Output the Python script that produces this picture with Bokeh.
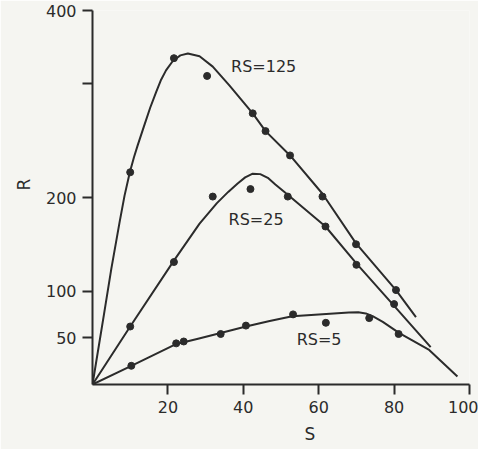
import math
from bokeh.plotting import figure
from bokeh.models import Range1d, FixedTicker, ColumnDataSource, Title
from bokeh.core.properties import value
from bokeh.embed import file_html
from bokeh.resources import INLINE

# ---- data ----
# measured points (S, R) for each RS level
rs125_s = [10, 21.6, 30.4, 42.5, 45.9, 52.4, 61, 69.9, 80.5]
rs125_r = [227, 349, 330, 290, 271, 245, 201, 150, 101]

rs25_s = [10, 21.6, 31.9, 41.9, 51.8, 61.8, 70.0, 80.0]
rs25_r = [62, 131, 201, 209, 201, 169, 128, 86]

rs5_s = [10.3, 22.2, 24.2, 34.0, 40.7, 53.2, 61.9, 73.4, 81.2]
rs5_r = [20, 44, 46, 54, 63, 75, 66, 71, 54]

# fitted curves
fit125_s = [0, 3, 5, 7.2, 8.5, 9.9, 11, 12, 13.8, 15.3, 16.9, 18.2, 19.5, 21.3, 23.3, 25.3,
            28.4, 31.9, 36.3, 42.5, 45.9, 52.4, 61, 69.9, 80.5, 85.8]
fit125_r = [0, 74, 124, 174, 202, 227, 243, 256, 278, 296, 313, 326, 336, 346, 352, 354,
            351, 340, 320, 290, 271, 245, 204, 151, 101, 72]

fit25_s = [0, 10, 21.5, 28.4, 33, 36, 38.5, 40.5, 42.5, 44.5, 46.5, 48.5, 51.8, 61.8, 70.1, 79.6, 89.7]
fit25_r = [0, 62, 132, 172, 194, 206, 215, 221.5, 225.5, 225, 221, 214, 203, 169, 129, 86, 40]

fit5_s = [0, 10.3, 22, 28, 34, 40.7, 47, 53, 62, 68, 70.5, 72.5, 74.3, 77, 81.4, 89.3, 96.8]
fit5_r = [0, 20, 43, 49, 55, 62, 68, 73, 75.5, 77, 77.2, 76, 73, 67, 55, 37, 8.5]

labels_text = ["RS=125", "RS=25", "RS=5"]
labels_s = [45.4, 43.4, 60.1]
labels_r = [340, 176, 48]

x_ticks = [20, 40, 60, 80, 100]
y_ticks = [50, 100, 200, 322, 400]
y_tick_labels = {50: "50", 100: "100", 200: "200", 322: "", 400: "400"}

INK = "#2b2b2b"
BG = "#f5f5f1"
FONT = "DejaVu Sans"

p = figure(width=478, height=449, output_backend="svg", toolbar_location=None,
           x_range=Range1d(0, 100), y_range=Range1d(0, 400),
           min_border_left=92, min_border_right=9, min_border_top=10, min_border_bottom=64)
p.background_fill_color = BG
p.border_fill_color = BG
p.outline_line_color = None
p.xgrid.visible = False
p.ygrid.visible = False

for ax in (p.xaxis[0], p.yaxis[0]):
    ax.axis_line_color = INK
    ax.axis_line_width = 2
    ax.major_tick_line_color = INK
    ax.major_tick_line_width = 2
    ax.major_tick_out = 10
    ax.major_tick_in = 0
    ax.minor_tick_line_color = None
    ax.major_label_text_font = FONT
    ax.major_label_text_font_size = "16px"
    ax.major_label_text_color = INK
    ax.major_label_standoff = 6

p.xaxis[0].ticker = FixedTicker(ticks=x_ticks)
p.yaxis[0].ticker = FixedTicker(ticks=y_ticks)
p.yaxis[0].major_label_overrides = y_tick_labels

for fs, fr in ((fit125_s, fit125_r), (fit25_s, fit25_r), (fit5_s, fit5_r)):
    p.line(fs, fr, line_color=INK, line_width=2, line_join="round")

for ps, pr in ((rs125_s, rs125_r), (rs25_s, rs25_r), (rs5_s, rs5_r)):
    p.scatter(ps, pr, size=7, fill_color=INK, line_color=INK)

src = ColumnDataSource(dict(x=labels_s, y=labels_r, t=labels_text))
p.text(x="x", y="y", text="t", source=src, text_align="center", text_baseline="middle",
       text_font_size="16px", text_color=INK, text_font=value(FONT))

p.add_layout(Title(text="S", align="left", offset=212, standoff=12, text_font=FONT,
                   text_font_size="17px", text_font_style="normal", text_color=INK), "below")
p.add_layout(Title(text="R", align="left", offset=194, standoff=18, text_font=FONT,
                   text_font_size="17px", text_font_style="normal", text_color=INK), "left")

open("out.html", "w").write(file_html(p, INLINE))
